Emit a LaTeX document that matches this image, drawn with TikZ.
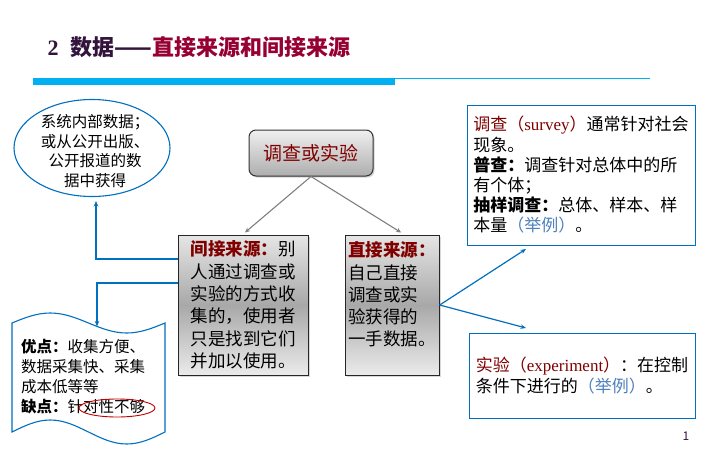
\documentclass[tikz,border=0pt]{standalone}
\usepackage{fontspec}
\setmainfont{Liberation Serif}
\newfontfamily\cjk{Noto Sans CJK SC}
\usepackage{tikz}
\usetikzlibrary{arrows.meta,positioning,shapes.geometric,shadows}
\definecolor{dred}{RGB}{128,0,0}
\definecolor{titlered}{RGB}{150,0,50}
\definecolor{titledark}{RGB}{50,20,60}
\definecolor{pptblue}{RGB}{0,112,192}
\definecolor{cyanbar}{RGB}{0,176,240}
\definecolor{exblue}{RGB}{79,129,189}
\definecolor{ringred}{RGB}{192,0,0}
\tikzset{
  topbox/.style={draw=black!80, line width=1pt, rounded corners=7pt,
    top color=black!6, bottom color=black!32,
    minimum width=124pt, minimum height=46pt, text=dred,
    font=\cjk\fontsize{19}{22}\selectfont,
    drop shadow={shadow xshift=1.5pt, shadow yshift=-1.5pt, opacity=0.35}},
  srcbox/.style={draw=black!85, line width=1pt,
    top color=black!10, bottom color=black!8, middle color=black!34,
    minimum height=140pt, align=left,
    font=\cjk\fontsize{17.5}{22.3}\selectfont,
    drop shadow={shadow xshift=1.5pt, shadow yshift=-1.5pt, opacity=0.3}},
  note/.style={draw=pptblue, line width=1pt, fill=white, align=left,
    font=\cjk\fontsize{17}{20.2}\selectfont},
  srcell/.style={draw=pptblue, line width=1.1pt, ellipse,
    minimum width=156pt, minimum height=97pt},
  lbl/.style={font=\cjk\fontsize{15.5}{19.5}\selectfont, inner sep=0pt},
  tape/.style={draw=pptblue, line width=1.1pt, fill=white},
  flow/.style={-{Stealth[length=5pt,width=4.5pt]}, line width=1.1pt, black!50},
  bflow/.style={-{Stealth[length=5.5pt,width=4.5pt]}, line width=1.2pt, pptblue}
}

\begin{document}
\begin{tikzpicture}[x=1pt, y=1pt, node distance=36pt]
  \useasboundingbox (0,0) rectangle (708,-450);
  \fill[white] (0,0) rectangle (708,-450);

  \node[anchor=west, font=\cjk\fontsize{22}{26}\selectfont\bfseries, text=titledark] (title) at (44,-47)
    {{\rmfamily 2}\hspace{12pt}数据——\textcolor{titlered}{直接来源和间接来源}};
  \fill[cyanbar] (33,-78) rectangle (395,-85);
  \draw[cyanbar, line width=1pt] (33,-78.5) -- (650,-78.5);

  \node[topbox] (exp) at (311,-153) {调查或实验};
  \node[srcbox, minimum width=130pt] (ind) at (243,-305)
    {\textbf{\color{dred}间接来源：}别\\人通过调查或\\实验的方式收\\集的，使用者\\只是找到它们\\并加以使用。};
  \node[srcbox, minimum width=94pt, right=of ind] (dir)
    {\textbf{\color{dred}直接来源：}\\自己直接\\调查或实\\验获得的\\一手数据。\\\mbox{}};
  \draw[flow] (exp.south) -- ([xshift=2pt,yshift=2pt]ind.north);
  \draw[flow] (exp.south) -- ([xshift=9pt,yshift=2pt]dir.north);

  \node[srcell] (src) at (92,-148) {};
  \node[lbl, align=center] (srctxt) at (95,-151)
    {系统内部数据；\\或从公开出版、\\公开报道的数\\据中获得};

  \draw[tape] (12,-323) sin (50.25,-313) cos (88.5,-323) sin (126.75,-333) cos (165,-323)
    -- (165,-432) sin (126.75,-444) cos (88.5,-432) sin (50.25,-420) cos (12,-432) -- cycle;
  \coordinate (tapetop) at (97,-326.4);
  \node[lbl, anchor=west, align=left, font=\cjk\fontsize{15.5}{20}\selectfont] (pro) at (21,-377)
    {\textbf{优点：}收集方便、\\数据采集快、采集\\成本低等等\\\textbf{缺点：}针对性不够};
  \draw[ringred, line width=0.9pt] (117,-408) ellipse [x radius=38, y radius=9];

  \draw[bflow] ([yshift=46pt]ind.west) -| ([xshift=4pt,yshift=-4pt]src.south);
  \draw[bflow] ([yshift=22pt]ind.west) -| (tapetop);

  \node[note, minimum width=228pt, minimum height=140pt] (svy) at (581,-175)
    {\textcolor{dred}{调查（{\rmfamily survey}）}通常针对社会\\现象。\\\textbf{普查：}调查针对总体中的所\\有个体；\\\textbf{抽样调查：}总体、样本、样\\本量\textcolor{exblue}{（举例）}。};
  \node[note, minimum width=226pt, minimum height=85pt] (trial) at (582,-375.5)
    {\textcolor{dred}{实验（{\rmfamily experiment}）}：在控制\\条件下进行的\textcolor{exblue}{（举例）}。};
  \coordinate (toup) at (526,-249);
  \coordinate (todn) at (526,-328);
  \draw[bflow] (dir.east) -- (toup);
  \draw[bflow] (dir.east) -- (todn);

  \node[font=\cjk\fontsize{12}{14}\selectfont, text=titledark] (pnum) at (686,-436) {1};
\end{tikzpicture}
\end{document}
